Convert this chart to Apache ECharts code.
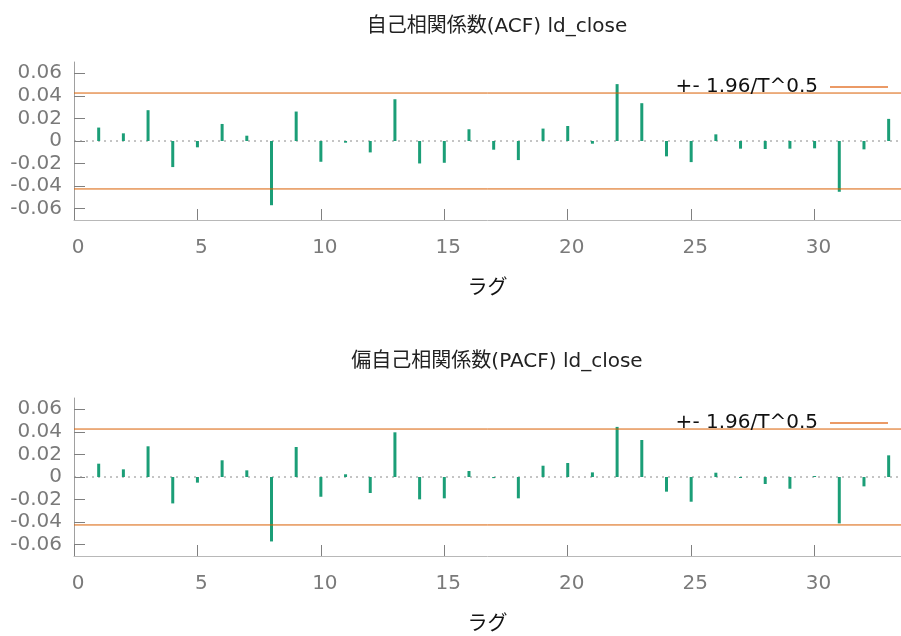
<!DOCTYPE html>
<html>
<head>
<meta charset="utf-8">
<script src="https://cdn.jsdelivr.net/npm/echarts@6/dist/echarts.min.js"></script>
<style>
  html, body { margin: 0; padding: 0; background: #fff; }
  #chart { width: 901px; height: 636px; }
</style>
</head>
<body>
<div id="chart"></div>
<script>
const lags = [1, 2, 3, 4, 5, 6, 7, 8, 9, 10, 11, 12, 13, 14, 15, 16, 17, 18, 19, 20, 21, 22, 23, 24, 25, 26, 27, 28, 29, 30, 31, 32, 33]

const acf = [0.0119, 0.0068, 0.0273, -0.0231, -0.0056, 0.0151, 0.0047, -0.0569, 0.0261, -0.0184,
    -0.0015, -0.0101, 0.0370, -0.0199, -0.0193, 0.0104, -0.0077, -0.0169, 0.0110, 0.0133,
    -0.0024, 0.0504, 0.0335, -0.0136, -0.0187, 0.0059, -0.0068, -0.0071, -0.0068, -0.0065,
    -0.0450, -0.0074, 0.0196]

const pacf = [0.0118, 0.0068, 0.0272, -0.0234, -0.0050, 0.0148, 0.0059, -0.0571, 0.0266, -0.0175,
    0.0024, -0.0142, 0.0396, -0.0198, -0.0189, 0.0053, -0.0010, -0.0189, 0.0100, 0.0124,
    0.0041, 0.0444, 0.0328, -0.0130, -0.0219, 0.0038, -0.0009, -0.0062, -0.0104, 0.0009,
    -0.0411, -0.0083, 0.0192]

// +- 1.96/T^0.5
const band = 0.0425

const yTicks = [-0.06, -0.04, -0.02, 0, 0.02, 0.04, 0.06]
const xTicks = [0, 5, 10, 15, 20, 25, 30]
const xMax = 33.5

const titles = ['自己相関係数(ACF) ld_close', '偏自己相関係数(PACF) ld_close']
const bandName = '+- 1.96/T^0.5'
const xName = 'ラグ'

const font = '"DejaVu Sans", "Noto Sans CJK JP", sans-serif'
const green = '#1b9e77'
const orange = '#d95f02'

const gridTops = [62, 398]

const dom = document.getElementById('chart')
const chart = echarts.init(dom, null, { renderer: 'canvas' })

let makeX = (i) => ({
    type: 'value',
    gridIndex: i,
    min: 0,
    max: xMax,
    name: xName,
    nameLocation: 'middle',
    nameGap: 56,
    nameTextStyle: { fontFamily: '"Noto Sans CJK JP", sans-serif', fontSize: 20, color: '#111' },
    axisLine: { show: true, onZero: false, lineStyle: { color: '#b8b8b8', width: 1 } },
    axisTick: { show: true, inside: true, length: 11, customValues: xTicks, lineStyle: { color: '#808080' } },
    axisLabel: {
        customValues: xTicks,
        fontFamily: font, fontSize: 20, color: '#7a7a7a', margin: 18,
        padding: [0, 0, 0, 8]
    },
    splitLine: { show: false }
})

let makeY = (i) => ({
    type: 'value',
    gridIndex: i,
    min: -0.07,
    max: 0.07,
    axisLine: { show: true, onZero: false, lineStyle: { color: '#a0a0a0', width: 1 } },
    axisTick: { show: true, inside: true, length: 11, customValues: yTicks, lineStyle: { color: '#808080' } },
    axisLabel: {
        customValues: yTicks,
        fontFamily: font, fontSize: 20, color: '#7a7a7a', margin: 12,
        formatter: v => Math.abs(v) < 1e-9 ? '0' : v.toFixed(2)
    },
    splitLine: { show: false }
})

let makeSeries = (i, vals) => [
    {
        name: 'zero',
        type: 'line',
        xAxisIndex: i, yAxisIndex: i,
        data: [[0, 0], [xMax, 0]],
        symbol: 'none',
        silent: true,
        lineStyle: { color: '#8a8a8a', width: 1, type: [2, 4] },
        z: 1
    },
    {
        name: 'coef' + i,
        type: 'bar',
        xAxisIndex: i, yAxisIndex: i,
        data: lags.map((l, k) => [l, vals[k]]),
        barWidth: 3,
        itemStyle: { color: green },
        z: 2
    },
    {
        name: bandName,
        type: 'line',
        xAxisIndex: i, yAxisIndex: i,
        data: [[0, band], [xMax, band]],
        symbol: 'none',
        itemStyle: { color: orange },
        lineStyle: { color: orange, width: 1 },
        z: 3
    },
    {
        name: bandName,
        type: 'line',
        xAxisIndex: i, yAxisIndex: i,
        data: [[0, -band], [xMax, -band]],
        symbol: 'none',
        itemStyle: { color: orange },
        lineStyle: { color: orange, width: 1 },
        z: 3
    }
]

const option = {
    animation: false,
    backgroundColor: '#fff',
    title: titles.map((t, i) => ({
        text: t,
        left: 492,
        textAlign: 'center',
        top: i == 0 ? 12 : 347,
        textStyle: { fontFamily: font, fontSize: 20, fontWeight: 'normal', color: '#222' }
    })),
    legend: gridTops.map((t, i) => ({
        data: [{ name: bandName, icon: 'rect' }],
        right: 13,
        top: t + 15,
        padding: 0,
        align: 'right',
        itemWidth: 58,
        itemHeight: 2,
        selectedMode: false,
        itemStyle: { color: '#eb9a66' },
        textStyle: { fontFamily: font, fontSize: 20, color: '#111', padding: [0, 7, 0, 0] }
    })),
    grid: gridTops.map(t => ({ left: 74, right: 0, top: t, height: 158 })),
    xAxis: [makeX(0), makeX(1)],
    yAxis: [makeY(0), makeY(1)],
    series: [...makeSeries(0, acf), ...makeSeries(1, pacf)]
}

chart.setOption(option)
</script>
</body>
</html>
